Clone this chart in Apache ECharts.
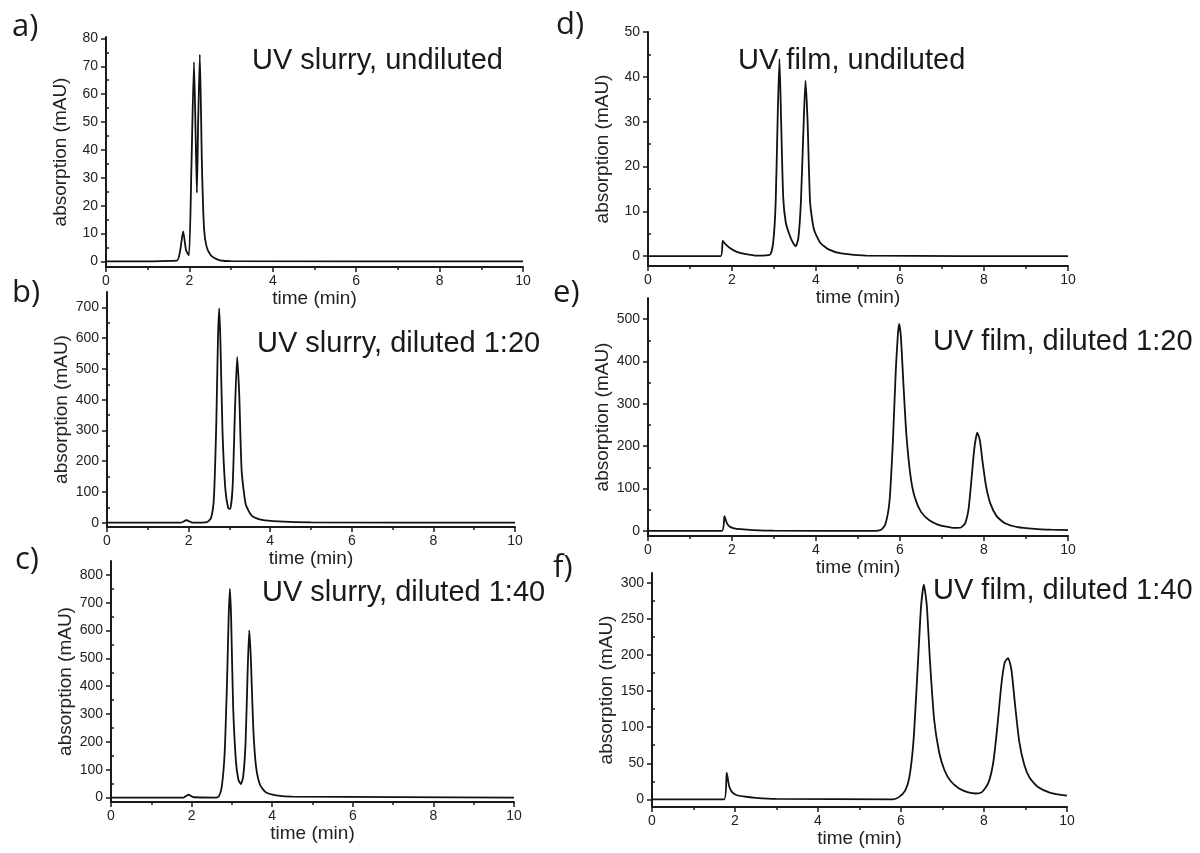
<!DOCTYPE html>
<html>
<head>
<meta charset="utf-8">
<script src="https://cdn.jsdelivr.net/npm/echarts@6/dist/echarts.min.js"></script>
<style>
  html, body { margin: 0; padding: 0; background: #fff; }
  #chart { width: 1200px; height: 853px; }
</style>
</head>
<body>
<div id="chart"></div>
<script>
// Хроматограммы: время (мин) и поглощение (mAU)
const timeA = [0, 1.70, 1.78, 1.85, 1.92, 1.99, 2.05, 2.11, 2.15, 2.18, 2.21, 2.25, 2.30, 2.35, 2.41, 2.50, 2.60, 2.73, 3.0, 10];
const absA  = [0, 0.3, 4, 10.8, 4, 2.2, 35, 71.5, 45, 24.6, 50, 74.2, 35, 12, 5.4, 2.5, 1.2, 0.4, 0.1, 0];

const timeB = [0, 1.8, 1.95, 2.1, 2.45, 2.55, 2.62, 2.68, 2.72, 2.75, 2.78, 2.83, 2.9, 2.97, 3.02, 3.08, 3.14, 3.19, 3.24, 3.3, 3.4, 3.55, 3.8, 4.2, 5, 10];
const absB  = [0, 0, 8, 0, 2, 15, 80, 330, 600, 697, 590, 300, 110, 48, 45, 120, 380, 539, 420, 170, 60, 22, 9, 4, 1, 0];

const timeC = [0, 1.8, 1.92, 2.05, 2.6, 2.68, 2.75, 2.82, 2.88, 2.92, 2.95, 2.98, 3.03, 3.1, 3.16, 3.22, 3.28, 3.34, 3.39, 3.43, 3.47, 3.53, 3.6, 3.7, 3.85, 4.1, 4.5, 10];
const absC  = [0, 0, 10, 1, 0, 5, 40, 160, 420, 650, 750, 650, 330, 130, 65, 48, 75, 200, 450, 601, 500, 250, 110, 45, 18, 8, 3, 0];

const timeD = [0, 1.73, 1.78, 1.85, 1.95, 2.1, 2.3, 2.6, 2.9, 2.98, 3.04, 3.09, 3.13, 3.17, 3.22, 3.28, 3.36, 3.45, 3.52, 3.58, 3.64, 3.7, 3.75, 3.8, 3.86, 3.95, 4.1, 4.3, 4.6, 5.2, 10];
const absD  = [0, 0, 3.4, 2.6, 1.8, 1, 0.5, 0.1, 0.3, 3, 12, 32, 44, 30, 13, 7.5, 5, 3, 2.2, 4, 12, 28, 39.2, 30, 12, 6, 3, 1.5, 0.6, 0.1, 0];

const timeE = [0, 1.76, 1.82, 1.88, 1.95, 2.05, 2.2, 2.5, 3, 5.4, 5.55, 5.65, 5.75, 5.83, 5.9, 5.95, 5.98, 6.02, 6.08, 6.15, 6.25, 6.35, 6.5, 6.7, 6.9, 7.1, 7.3, 7.45, 7.55, 7.63, 7.7, 7.77, 7.84, 7.9, 7.97, 8.05, 8.15, 8.3, 8.5, 8.8, 9.2, 9.6, 10];
const absE  = [0, 0, 35, 18, 10, 6, 4, 2, 0.5, 0, 3, 15, 70, 210, 380, 465, 489, 460, 350, 230, 130, 80, 45, 25, 15, 10, 7, 8, 18, 50, 120, 195, 232, 215, 160, 105, 65, 35, 18, 9, 5, 3, 2];

const timeF = [0, 1.74, 1.8, 1.86, 1.93, 2.03, 2.2, 2.5, 3, 5.8, 5.95, 6.1, 6.2, 6.3, 6.4, 6.48, 6.55, 6.62, 6.7, 6.8, 6.92, 7.05, 7.2, 7.4, 7.6, 7.8, 7.95, 8.1, 8.22, 8.32, 8.42, 8.5, 8.58, 8.66, 8.75, 8.85, 8.97, 9.1, 9.3, 9.6, 10];
const absF  = [0, 0, 37, 18, 10, 6, 4, 2, 0.5, 0, 3, 12, 30, 80, 180, 265, 298, 270, 190, 110, 65, 40, 25, 15, 10, 8, 10, 22, 50, 100, 160, 190, 196, 180, 130, 80, 48, 30, 17, 9, 5];

// Подписи делений оси Y
const ticksA = [0, 10, 20, 30, 40, 50, 60, 70, 80];
const ticksB = [0, 100, 200, 300, 400, 500, 600, 700];
const ticksC = [0, 100, 200, 300, 400, 500, 600, 700, 800];
const ticksD = [0, 10, 20, 30, 40, 50];
const ticksE = [0, 100, 200, 300, 400, 500];
const ticksF = [0, 50, 100, 150, 200, 250, 300];

const titles = [
  'UV slurry, undiluted', 'UV slurry, diluted 1:20', 'UV slurry, diluted 1:40',
  'UV film, undiluted', 'UV film, diluted 1:20', 'UV film, diluted 1:40'
];
const letters = ['a)', 'b)', 'c)', 'd)', 'e)', 'f)'];

const panels = [
  { t: timeA, v: absA, ticks: ticksA, min: -2,   max: 80.5, grid: [106, 37, 417, 230],  title: [252, 60], letter: [12, 26] },
  { t: timeB, v: absB, ticks: ticksB, min: -14,  max: 750,  grid: [107, 292, 408, 235], title: [257, 343], letter: [12, 292] },
  { t: timeC, v: absC, ticks: ticksC, min: -16,  max: 850,  grid: [111, 561, 403, 241], title: [262, 592], letter: [15, 559] },
  { t: timeD, v: absD, ticks: ticksD, min: -2.2, max: 50,   grid: [648, 32, 420, 234],  title: [738, 60], letter: [556, 24] },
  { t: timeE, v: absE, ticks: ticksE, min: -12,  max: 550,  grid: [648, 298, 420, 238], title: [933, 341], letter: [553, 292] },
  { t: timeF, v: absF, ticks: ticksF, min: -10.7, max: 314, grid: [652, 573, 415, 234], title: [933, 590], letter: [553, 567] }
];

const axisColor = '#1a1a1a';
const labelFont = { color: '#222', fontSize: 14, fontFamily: 'Liberation Sans, Arial, sans-serif' };
const nameFont = { color: '#222', fontSize: 19, fontFamily: 'Liberation Sans, Arial, sans-serif' };

const grids = [], xAxes = [], yAxes = [], series = [], graphics = [];

panels.forEach(function(p, i) {
  grids.push({ left: p.grid[0], top: p.grid[1], width: p.grid[2], height: p.grid[3], outerBoundsMode: 'none' });

  xAxes.push({
    gridIndex: i, type: 'value', min: 0, max: 10, interval: 2,
    name: 'time (min)', nameLocation: 'middle', nameGap: 22, nameTextStyle: nameFont,
    axisLine: { onZero: false, lineStyle: { color: axisColor, width: 2 } },
    axisTick: { length: 5, lineStyle: { color: axisColor, width: 1.5 } },
    minorTick: { show: true, splitNumber: 2, length: 3, lineStyle: { color: axisColor, width: 1.5 } },
    axisLabel: Object.assign({ margin: 7 }, labelFont),
    splitLine: { show: false }
  });

  // шаг между подписями, промежуточные деления посередине
  const step = p.ticks[1] - p.ticks[0];
  const minor = p.ticks.map(function(v) { return v + step / 2; }).filter(function(v) { return v < p.max; });

  yAxes.push({
    gridIndex: i, type: 'value', min: p.min, max: p.max,
    name: 'absorption (mAU)', nameLocation: 'middle', nameGap: 36, nameRotate: 90, nameTextStyle: nameFont,
    axisLine: { onZero: false, lineStyle: { color: axisColor, width: 2 } },
    axisTick: { customValues: p.ticks, length: 5, lineStyle: { color: axisColor, width: 1.5 } },
    axisLabel: Object.assign({ customValues: p.ticks, margin: 8 }, labelFont),
    splitLine: { show: false }
  });
  yAxes.push({
    gridIndex: i, type: 'value', min: p.min, max: p.max,
    axisLine: { show: false },
    axisTick: { customValues: minor, length: 3, lineStyle: { color: axisColor, width: 1.5 } },
    axisLabel: { show: false },
    splitLine: { show: false }
  });

  series.push({
    type: 'line',
    xAxisIndex: i,
    yAxisIndex: i * 2,
    data: p.t.map(function(t, k) { return [t, p.v[k]]; }),
    showSymbol: false,
    smooth: 0.2,
    lineStyle: { color: '#111', width: 1.8 }
  });

  graphics.push({
    type: 'text', left: p.title[0], top: p.title[1] - 14,
    style: { text: titles[i], fill: '#1a1a1a', fontSize: 29, fontFamily: 'Liberation Sans, Arial, sans-serif' }
  });
  graphics.push({
    type: 'text', left: p.letter[0], top: p.letter[1] - 14,
    style: { text: letters[i], fill: '#1a1a1a', fontSize: 31, fontFamily: 'Open Sans, sans-serif' }
  });
});

const chart = echarts.init(document.getElementById('chart'));
chart.setOption({
  animation: false,
  backgroundColor: '#fff',
  grid: grids,
  xAxis: xAxes,
  yAxis: yAxes,
  series: series,
  graphic: graphics
});
</script>
</body>
</html>
